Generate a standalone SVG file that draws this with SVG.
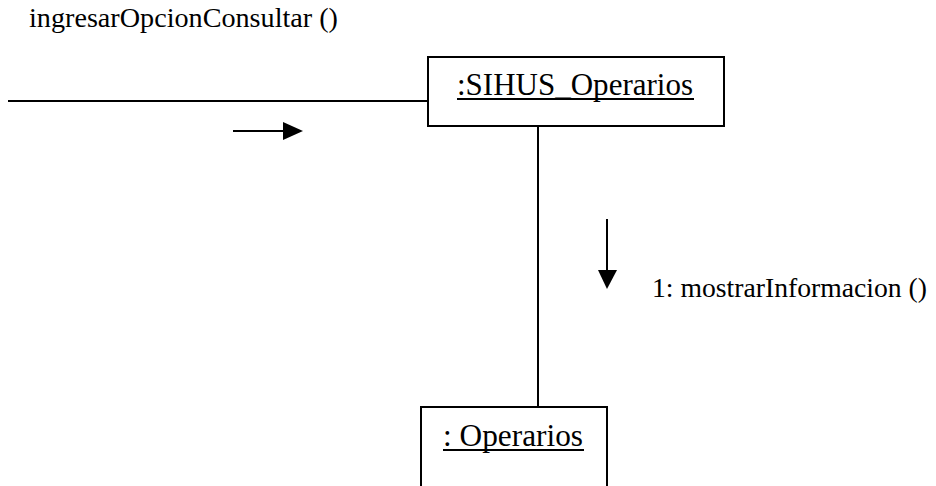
<svg xmlns="http://www.w3.org/2000/svg" width="936" height="486" viewBox="0 0 936 486">
<style>
.box{fill:#fff;stroke:#000;stroke-width:2}
.ln{stroke:#000;stroke-width:2;fill:none}
.m{font-family:'Liberation Serif','Times New Roman',serif;font-size:28px;fill:#000}
.o{font-family:'Liberation Serif','Times New Roman',serif;font-size:31px;fill:#000}
</style>
<rect width="936" height="486" fill="#fff"/>
<g id="connectors">
<line class="ln" x1="8" y1="101" x2="428" y2="101"/>
<line class="ln" x1="538" y1="126" x2="538" y2="407"/>
<line class="ln" x1="233" y1="131" x2="285" y2="131"/>
<polygon points="283,122 303,131 283,140" fill="#000"/>
<line class="ln" x1="607" y1="219" x2="607" y2="272"/>
<polygon points="598,270 617,270 607,289" fill="#000"/>
<text class="m" x="29" y="27" textLength="309" lengthAdjust="spacingAndGlyphs">ingresarOpcionConsultar ()</text>
<text class="m" x="652" y="297" textLength="275" lengthAdjust="spacingAndGlyphs">1: mostrarInformacion ()</text>
</g>
<g id="sihus">
<rect class="box" x="428" y="57" width="296" height="69"/>
<text class="o" x="457" y="95" textLength="236" lengthAdjust="spacingAndGlyphs">:SIHUS_Operarios</text>
<line x1="457" y1="99" x2="694" y2="99" stroke="#000" stroke-width="2"/>
</g>
<g id="operarios">
<rect class="box" x="421" y="407" width="186" height="90"/>
<text class="o" x="443" y="446" textLength="140" lengthAdjust="spacingAndGlyphs">: Operarios</text>
<line x1="443" y1="450" x2="584" y2="450" stroke="#000" stroke-width="2"/>
</g>
</svg>
